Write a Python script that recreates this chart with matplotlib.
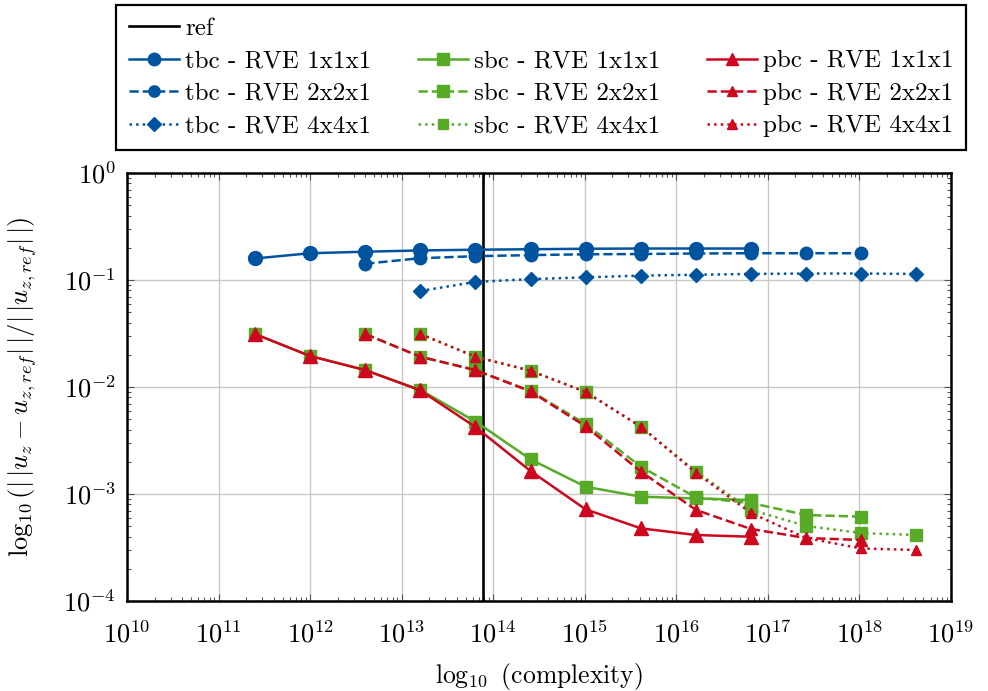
import numpy as np
import matplotlib
matplotlib.use('Agg')
import matplotlib.pyplot as plt
from matplotlib.lines import Line2D
from matplotlib.ticker import LogLocator, NullFormatter

## colors
blue = '#00549F'
green = '#57AB27'
red = '#CC071E'

## data
complexity = [2.5e11, 1.0e12, 4.0e12, 1.6e13, 6.4e13, 2.56e14, 1.02e15,
              4.1e15, 1.64e16, 6.55e16, 2.62e17, 1.05e18, 4.19e18]
ref_complexity = 7.7e13

tbc_1x1x1 = [0.159, 0.178, 0.184, 0.189, 0.192, 0.194, 0.196, 0.197, 0.197, 0.197]
tbc_2x2x1 = [0.142, 0.160, 0.167, 0.171, 0.174, 0.175, 0.177, 0.178, 0.178, 0.178]
tbc_4x4x1 = [0.079, 0.096, 0.102, 0.106, 0.110, 0.112, 0.114, 0.115, 0.115, 0.114]

sbc_1x1x1 = [0.0313, 0.0195, 0.0144, 0.0094, 0.00476, 0.00211, 0.00117, 0.000944, 0.000910, 0.000879]
sbc_2x2x1 = [0.0313, 0.0192, 0.0144, 0.0092, 0.00451, 0.00180, 0.00093, 0.000824, 0.000637, 0.000614]
sbc_4x4x1 = [0.0313, 0.0192, 0.0142, 0.0090, 0.00426, 0.00162, 0.00071, 0.000503, 0.000432, 0.000414]

pbc_1x1x1 = [0.0313, 0.0195, 0.0144, 0.0093, 0.00423, 0.00164, 0.00072, 0.000478, 0.000414, 0.000399]
pbc_2x2x1 = [0.0313, 0.0192, 0.0144, 0.0091, 0.00430, 0.00162, 0.00071, 0.000471, 0.000388, 0.000372]
pbc_4x4x1 = [0.0313, 0.0192, 0.0142, 0.0090, 0.00426, 0.00158, 0.000664, 0.000388, 0.000310, 0.000300]

# first complexity index of each RVE size
start = {'1x1x1': 0, '2x2x1': 2, '4x4x1': 3}

series = [
    ('tbc', '1x1x1', tbc_1x1x1, blue, '-', 'o', 10),
    ('tbc', '2x2x1', tbc_2x2x1, blue, '--', 'o', 9),
    ('tbc', '4x4x1', tbc_4x4x1, blue, ':', 'D', 7.5),
    ('sbc', '1x1x1', sbc_1x1x1, green, '-', 's', 9),
    ('sbc', '2x2x1', sbc_2x2x1, green, '--', 's', 9),
    ('sbc', '4x4x1', sbc_4x4x1, green, ':', 's', 8.5),
    ('pbc', '1x1x1', pbc_1x1x1, red, '-', '^', 9.5),
    ('pbc', '2x2x1', pbc_2x2x1, red, '--', '^', 8.5),
    ('pbc', '4x4x1', pbc_4x4x1, red, ':', '^', 7.5),
]

plt.rcParams['font.family'] = 'serif'
plt.rcParams['font.serif'] = ['cmr10', 'DejaVu Serif']
plt.rcParams['mathtext.fontset'] = 'cm'
plt.rcParams['axes.formatter.use_mathtext'] = True
font_size = 18
tick_size = 19

fig = plt.figure(figsize=(9.88, 6.91), dpi=100)
ax = fig.add_axes([0.1285, 0.1302, 0.8340, 0.6194])

handles = {}
h_ref, = ax.plot([ref_complexity, ref_complexity], [1e-4, 1e0], color='black', linewidth=1.9)
for bc, rve, vals, col, ls, mk, ms in series:
    i0 = start[rve]
    xs = complexity[i0:i0 + len(vals)]
    h, = ax.plot(xs, vals, color=col, linestyle=ls, marker=mk, markersize=ms,
                 linewidth=1.8, label='%s - RVE %s' % (bc, rve))
    handles[(bc, rve)] = h

ax.set_xscale('log')
ax.set_yscale('log')
ax.set_xlim(1e10, 1e19)
ax.set_ylim(1e-4, 1e0)
ax.xaxis.set_major_locator(LogLocator(base=10, numticks=20))
ax.xaxis.set_minor_locator(LogLocator(base=10, subs=np.arange(2, 10), numticks=20))
ax.xaxis.set_minor_formatter(NullFormatter())
ax.yaxis.set_minor_locator(LogLocator(base=10, subs=np.arange(2, 10), numticks=20))
ax.yaxis.set_minor_formatter(NullFormatter())
ax.tick_params(which='both', direction='in', top=True, right=True, labelsize=tick_size, width=0.8, color='#555555')
ax.tick_params(which='major', length=5)
ax.tick_params(which='minor', length=3)
ax.tick_params(axis='x', which='major', pad=14)
ax.tick_params(axis='y', which='major', pad=8)
ax.grid(True, which='major', color='#c8c8c8', linewidth=1)
ax.set_axisbelow(True)
for sp in ax.spines.values():
    sp.set_linewidth(1.8)

ax.set_xlabel(r'$\log_{10}$ (complexity)', fontsize=18.5, labelpad=10)
ax.set_ylabel(r'$\log_{10}(|\,|u_z-u_{z,ref}|\,|/|\,|u_{z,ref}|\,|)$', fontsize=19)
ax.yaxis.set_label_coords(-0.107, 0.5)

## legend: "ref" alone on the first row, then one column per boundary condition
blank = Line2D([], [], linestyle='none', marker=None)
leg_handles = [h_ref, handles[('tbc', '1x1x1')], handles[('tbc', '2x2x1')], handles[('tbc', '4x4x1')],
               blank, handles[('sbc', '1x1x1')], handles[('sbc', '2x2x1')], handles[('sbc', '4x4x1')],
               blank, handles[('pbc', '1x1x1')], handles[('pbc', '2x2x1')], handles[('pbc', '4x4x1')]]
leg_labels = ['ref', 'tbc - RVE 1x1x1', 'tbc - RVE 2x2x1', 'tbc - RVE 4x4x1',
              '', 'sbc - RVE 1x1x1', 'sbc - RVE 2x2x1', 'sbc - RVE 4x4x1',
              '', 'pbc - RVE 1x1x1', 'pbc - RVE 2x2x1', 'pbc - RVE 4x4x1']
leg = fig.legend(leg_handles, leg_labels, ncol=3, loc='upper center',
                 bbox_to_anchor=(0.5476, 0.9928), fontsize=font_size,
                 handlelength=2.0, handletextpad=0.25, columnspacing=1.85,
                 labelspacing=0.4, borderpad=0.5, borderaxespad=0,
                 fancybox=False, framealpha=1, edgecolor='black', markerscale=0.9)
leg.get_frame().set_linewidth(1.6)

plt.savefig('out.png', dpi=100)
